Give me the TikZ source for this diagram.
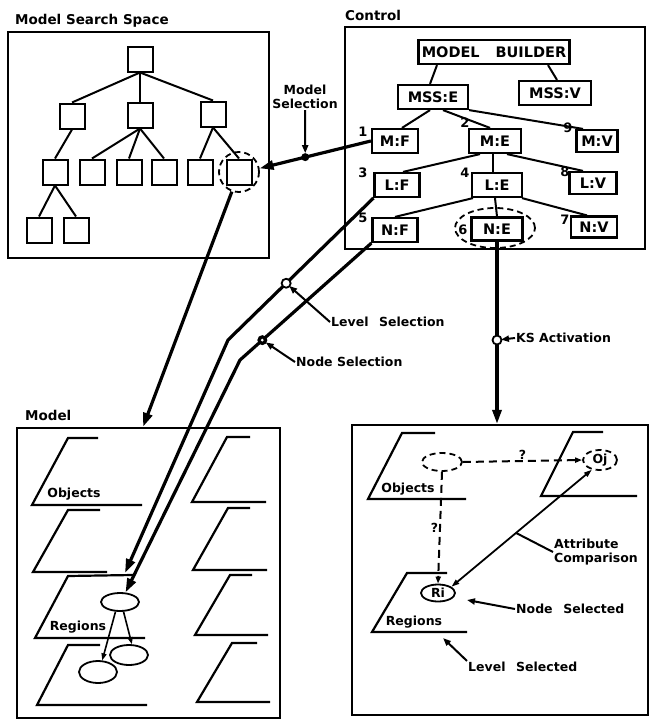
\documentclass[tikz,border=0pt]{standalone}
\usepackage{fontspec}
\setmainfont{DejaVu Sans}
\usetikzlibrary{arrows.meta,shapes.geometric,calc}
\begin{document}
\begin{tikzpicture}[x=1pt,y=-1pt,
  ann/.style={font=\fontsize{12.5}{14}\selectfont\bfseries, inner sep=1pt},
  ttl/.style={font=\fontsize{13.5}{15}\selectfont\bfseries, anchor=west, inner sep=0pt},
  num/.style={font=\fontsize{13}{14}\selectfont\bfseries, inner sep=0pt},
  frame/.style={draw, line width=2.2pt, inner sep=0pt},
  sq/.style={draw, line width=2pt, minimum size=25pt, inner sep=0pt},
  cbox/.style={draw, line width=2.2pt, inner sep=0pt, font=\fontsize{14.5}{16}\selectfont\bfseries, minimum height=24pt},
  tree/.style={line width=2pt},
  conn/.style={line width=3.2pt},
  tip/.style={-{Triangle[length=14pt,width=9pt]}},
  ptr/.style={line width=2pt, -{Triangle[length=8pt,width=6pt]}},
  smalltip/.style={-{Triangle[length=7pt,width=5pt]}},
  plane/.style={line width=2.2pt, line join=miter},
  ell/.style={draw, ellipse, line width=1.8pt, fill=white, inner sep=0pt},
  dell/.style={draw, dash pattern=on 6pt off 4pt, ellipse, line width=1.8pt, inner sep=0pt},
  dline/.style={line width=2pt, dash pattern=on 8pt off 5pt},
]
\useasboundingbox (0,0) rectangle (658,720);
\fill[white] (0,0) rectangle (658,720);

% ---------------- Model Search Space ----------------
\node[ttl] (tmss) at (15,21) {Model Search Space};
\node[frame, minimum width=261pt, minimum height=226pt] (mssbox) at (138.5,145) {};
\node[sq] (r)  at (140,59) {};
\node[sq] (a1) at (72,116) {};
\node[sq] (a2) at (140,115) {};
\node[sq] (a3) at (213,114) {};
\node[sq] (b1) at (55,172) {};
\node[sq] (b2) at (92,172) {};
\node[sq] (b3) at (129,172) {};
\node[sq] (b4) at (164,172) {};
\node[sq] (b5) at (200,172) {};
\node[sq] (b6) at (239,172) {};
\node[sq] (c1) at (39,230) {};
\node[sq] (c2) at (76,230) {};
\draw[tree] (r.south) -- (a1.north);
\draw[tree] (r.south) -- (a2.north);
\draw[tree] (r.south) -- (a3.north);
\draw[tree] (a1.south) -- (b1.north);
\draw[tree] (a2.south) -- (b2.north);
\draw[tree] (a2.south) -- (b3.north);
\draw[tree] (a2.south) -- (b4.north);
\draw[tree] (a3.south) -- (b5.north);
\draw[tree] (a3.south) -- (b6.north);
\draw[tree] (b1.south) -- (c1.north);
\draw[tree] (b1.south) -- (c2.north);
\node[dell, circle, minimum size=40pt] (selc) at (239,172) {};

% ---------------- Control ----------------
\node[ttl] (tctl) at (345,15) {Control};
\node[frame, minimum width=300pt, minimum height=222pt] (ctl) at (495,138) {};
\node[dell, minimum width=80pt, minimum height=40pt] (nesel) at (495,228) {};
\node[cbox, minimum width=151pt] (mb) at (494,52) {MODEL\hspace{1.1em}BUILDER};
\node[cbox, minimum width=70pt] (msse) at (433,97) {MSS:E};
\node[cbox, minimum width=72pt] (mssv) at (555,93) {MSS:V};
\node[cbox, minimum width=46pt] (mf) at (395,141) {M:F};
\node[cbox, minimum width=52pt] (me) at (495,141) {M:E};
\node[cbox, minimum width=41pt, minimum height=22pt] (mv) at (597,141) {M:V};
\node[cbox, minimum width=45pt] (lf) at (397,185) {L:F};
\node[cbox, minimum width=50pt] (le) at (497,185) {L:E};
\node[cbox, minimum width=47pt, minimum height=22pt] (lv) at (593,183) {L:V};
\node[cbox, minimum width=45pt] (nf) at (395,230) {N:F};
\node[cbox, minimum width=51pt, minimum height=23pt] (ne) at (497,229) {N:E};
\node[cbox, minimum width=46pt, minimum height=21pt] (nv) at (594,227) {N:V};
\draw[tree] ([xshift=-57pt]mb.south) -- ([xshift=-3pt]msse.north);
\draw[tree] ([xshift=54pt]mb.south) -- ([xshift=2pt]mssv.north);
\draw[tree] ([xshift=-3pt]msse.south) -- ([xshift=7pt]mf.north);
\draw[tree] ([xshift=10pt]msse.south) -- ([xshift=-5pt]me.north);
\draw[tree] (msse.south east) -- ([xshift=-14pt]mv.north);
\draw[tree] ([xshift=-15pt]me.south) -- ([xshift=6pt]lf.north);
\draw[tree] ([xshift=-2pt]me.south) -- ([xshift=-4pt]le.north);
\draw[tree] ([xshift=12pt]me.south) -- ([xshift=-10pt]lv.north);
\draw[tree] ([xshift=-24pt]le.south) -- (nf.north);
\draw[tree] ([xshift=-2pt]le.south) -- (ne.north);
\draw[tree] ([xshift=25pt]le.south) -- ([xshift=-7pt]nv.north);
\node[num] (n1) at (363,132) {1};
\node[num] (n2) at (465,123) {2};
\node[num] (n9) at (568,128) {9};
\node[num] (n3) at (363,173) {3};
\node[num] (n4) at (465,173) {4};
\node[num] (n8) at (565,172) {8};
\node[num] (n5) at (363,218) {5};
\node[num] (n6) at (463,230) {6};
\node[num] (n7) at (565,220) {7};

% ---------------- Model ----------------
\node[ttl] (tmodel) at (25,415) {Model};
\node[frame, minimum width=263pt, minimum height=290pt] (mbox) at (148.5,573) {};
\draw[plane] (98,438) -- (68,438) -- (32,505) -- (142,505);
\draw[plane] (100,510) -- (68,510) -- (33,572) -- (107,572);
\draw[plane] (133,575) -- (68,576) -- (35,638) -- (145,638);
\draw[plane] (100,645) -- (68,645) -- (37,705) -- (147,705);
\draw[plane] (250,437) -- (227,437) -- (192,502) -- (266,502);
\draw[plane] (250,508) -- (228,508) -- (193,570) -- (267,570);
\draw[plane] (252,575) -- (230,575) -- (195,635) -- (268,635);
\draw[plane] (257,643) -- (232,643) -- (197,702) -- (270,702);
\node[ann] (objL) at (74,494) {Objects};
\node[ann] (regL) at (78,627) {Regions};
\node[ell, minimum width=38pt, minimum height=18pt] (e1) at (120,602) {};
\node[ell, minimum width=38pt, minimum height=20pt] (e2) at (129,655) {};
\node[ell, minimum width=38pt, minimum height=22pt] (e3) at (98,672) {};
\draw[line width=1.6pt, smalltip] (e1.-70) -- (e2.75);
\draw[line width=1.6pt, smalltip] (e1.-115) -- (e3.70);

% ---------------- Right lower box ----------------
\node[frame, minimum width=296pt, minimum height=290pt] (rbox) at (500,570) {};
\draw[plane] (435,433) -- (402,433) -- (368,499) -- (466,499);
\draw[plane] (603,432) -- (573,432) -- (541,496) -- (637,496);
\draw[plane] (447,573) -- (407,573) -- (372,632) -- (467,632);
\node[ann] (objR) at (408,489) {Objects};
\node[ann] (regR) at (414,622) {Regions};
\node[dell, minimum width=40pt, minimum height=18pt] (q1) at (442,462) {};
\node[ann, dell, minimum width=34pt, minimum height=20pt] (oj) at (600,460) {Oj};
\node[ann, ell, minimum width=34pt, minimum height=17pt] (ri) at (438,593) {Ri};
\draw[dline, smalltip] (q1.east) -- node[above, ann] (qm1) {?} (oj.west);
\draw[dline, smalltip] (q1.south) -- node[left, ann] (qm2) {?} (ri.north);
\draw[line width=1.8pt, {Triangle[length=8pt,width=5pt]}-{Triangle[length=8pt,width=5pt]}]
  (ri.25) -- coordinate[pos=0.46] (acpt) (oj.-130);
\node[ann, anchor=west, align=left] (aclbl) at (553,552) {Attribute\\Comparison};
\draw[line width=2pt] (aclbl.west) -- (acpt);
\node[ann, anchor=west] (nsel) at (515,609) {Node\hspace{0.5em} Selected};
\coordinate (ritip) at (467,600);
\draw[ptr] (nsel.west) -- (ritip);
\node[ann, anchor=west] (lsel) at (467,667) {Level\hspace{0.5em} Selected};
\coordinate (lstip) at (443,638);
\draw[ptr] (lsel.north west) -- (lstip);

% ---------------- Connectors ----------------
% Model selection
\draw[conn, tip] (mf.west) -- coordinate[pos=0.59] (msdot) (selc.10);
\fill (msdot) circle (4pt);
\node[ann, align=center] (mslbl) at (305,97) {Model\\Selection};
\draw[ptr] (mslbl.south) -- ([yshift=4pt]msdot);
% MSS -> Model
\coordinate (mtop) at ([xshift=-5.5pt]mbox.north);
\draw[conn, tip] (selc.-110) -- (mtop);
% Level selection
\coordinate (lvbend) at (228,340);
\coordinate (lvend) at (125,573);
\draw[conn, tip, line join=round] (lf.south west) -- coordinate[pos=0.6] (lvdot) (lvbend) -- (lvend);
\draw[line width=1.8pt, fill=white] (lvdot) circle (4.5pt);
\node[ann, anchor=west] (lvlbl) at (330,322) {Level\hspace{0.5em} Selection};
\draw[ptr, shorten >=4pt] (lvlbl.west) -- (lvdot);
% Node selection
\coordinate (ndbend) at (240,360);
\draw[conn, tip, line join=round] (nf.south west) -- coordinate[pos=0.83] (nddot) (ndbend) -- (e1.60);
\fill (nddot) circle (5pt);
\fill[white] (nddot) circle (1.5pt);
\node[ann, anchor=west] (ndlbl) at (295,362) {Node Selection};
\draw[ptr, shorten >=4pt] (ndlbl.west) -- (nddot);
% KS activation
\coordinate (rtop) at ([xshift=-3pt]rbox.north);
\draw[conn, tip] (ne.south) -- coordinate[pos=0.54] (ksdot) (rtop);
\draw[line width=1.8pt, fill=white] (ksdot) circle (4.5pt);
\node[ann, anchor=west] (kslbl) at (515,338) {KS Activation};
\draw[ptr, shorten >=4pt] (kslbl.west) -- (ksdot);
\end{tikzpicture}
\end{document}
